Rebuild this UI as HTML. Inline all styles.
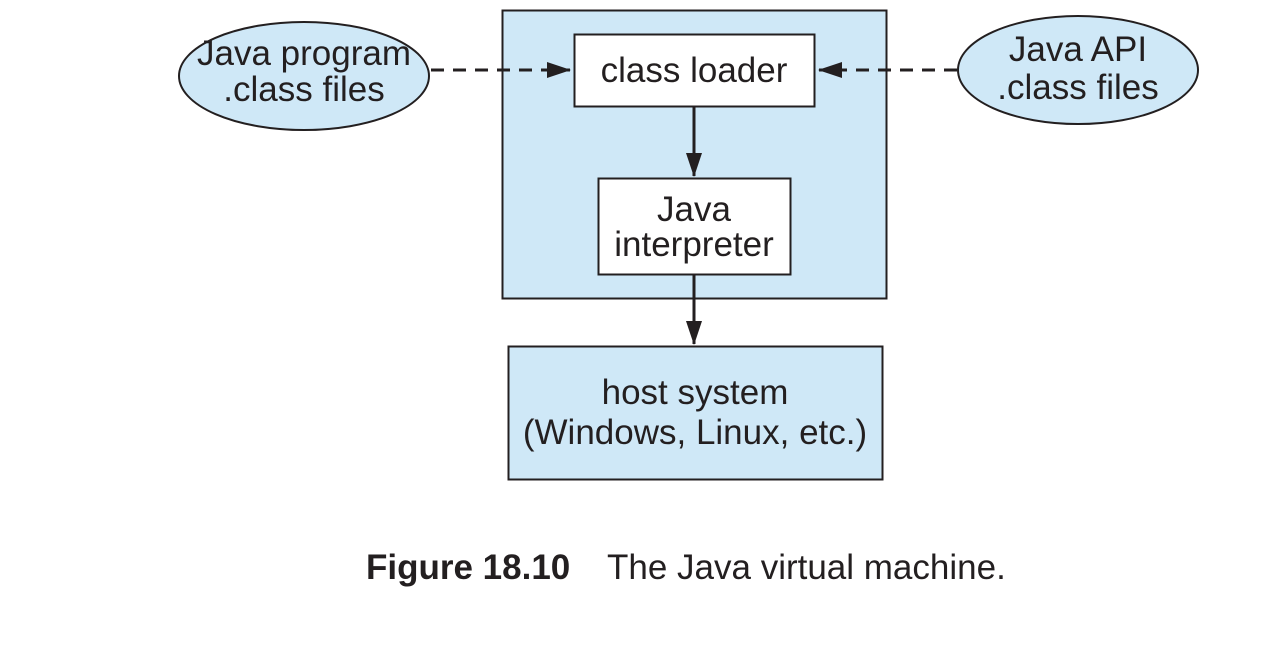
<!DOCTYPE html>
<html><head><style>body{margin:0;background:#fff}svg{display:block}</style></head><body>
<svg width="1282" height="646" xmlns="http://www.w3.org/2000/svg" font-family="Liberation Sans, sans-serif" fill="#231f20">
<defs><marker id="b" markerWidth="24" markerHeight="16" refX="23" refY="8" orient="auto" markerUnits="userSpaceOnUse"><path d="M0,0 L24,8 L0,16z" fill="#231f20"/></marker></defs>
<rect x="502.5" y="10.5" width="384" height="288" fill="#cfe8f7" stroke="#231f20" stroke-width="2"/>
<rect x="574.5" y="34.5" width="240" height="72" fill="#fff" stroke="#231f20" stroke-width="2"/>
<rect x="598.5" y="178.5" width="192" height="96" fill="#fff" stroke="#231f20" stroke-width="2"/>
<rect x="508.5" y="346.5" width="374" height="133" fill="#cfe8f7" stroke="#231f20" stroke-width="2"/>
<ellipse cx="304" cy="76" rx="125" ry="54" fill="#cfe8f7" stroke="#231f20" stroke-width="2"/>
<ellipse cx="1078" cy="70" rx="120" ry="54" fill="#cfe8f7" stroke="#231f20" stroke-width="2"/>
<line x1="431" y1="70" x2="570" y2="70" stroke="#231f20" stroke-width="3" stroke-dasharray="13,9" marker-end="url(#b)"/>
<line x1="957" y1="70" x2="819" y2="70" stroke="#231f20" stroke-width="3" stroke-dasharray="13,9" marker-end="url(#b)"/>
<line x1="694" y1="107" x2="694" y2="176" stroke="#231f20" stroke-width="3" marker-end="url(#b)"/>
<line x1="694" y1="275" x2="694" y2="344" stroke="#231f20" stroke-width="3" marker-end="url(#b)"/>
<g font-size="35" text-anchor="middle">
<text x="304" y="65">Java program</text><text x="304" y="101">.class files</text>
<text x="1078" y="61">Java API</text><text x="1078" y="99">.class files</text>
<text x="694" y="82">class loader</text>
<text x="694" y="221">Java</text><text x="694" y="256">interpreter</text>
<text x="695" y="404">host system</text><text x="695" y="444">(Windows, Linux, etc.)</text>
</g>
<text x="366" y="579" font-size="35" font-weight="bold">Figure 18.10</text>
<text x="607" y="579" font-size="35">The Java virtual machine.</text>
</svg>
</body></html>
